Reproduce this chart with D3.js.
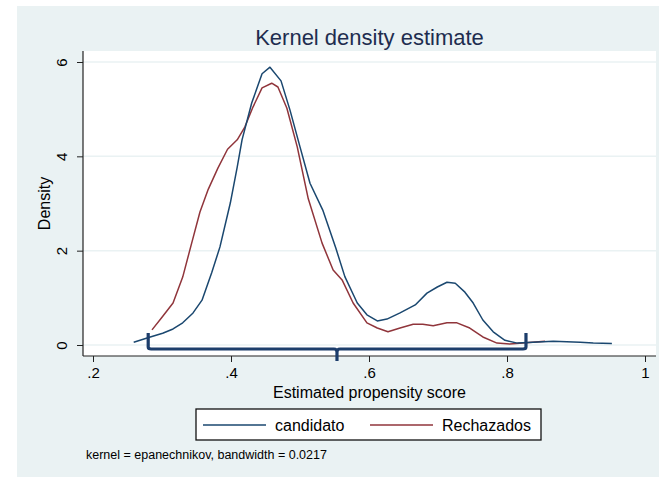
<!DOCTYPE html>
<html>
<head>
<meta charset="utf-8">
<script src="https://cdn.jsdelivr.net/npm/d3@7"></script>
<style>
  body { margin: 0; background: #fff; }
  text { font-family: "Liberation Sans", Arial, sans-serif; }
</style>
</head>
<body>
<div id="chart"></div>
<script>
// data
var candidatoX = [0.259, 0.283, 0.301, 0.316, 0.330, 0.345, 0.358, 0.372, 0.384, 0.399, 0.409, 0.416, 0.430, 0.445, 0.4565, 0.4725, 0.4855, 0.500, 0.5145, 0.533, 0.552, 0.565, 0.583, 0.597, 0.612, 0.626, 0.645, 0.667, 0.684, 0.699, 0.713, 0.725, 0.739, 0.751, 0.765, 0.780, 0.797, 0.815, 0.838, 0.867, 0.906, 0.925, 0.952];
var candidatoY = [0.06, 0.17, 0.25, 0.34, 0.47, 0.68, 0.95, 1.53, 2.08, 3.01, 3.77, 4.35, 5.13, 5.75, 5.89, 5.6, 4.98, 4.2, 3.43, 2.86, 2.05, 1.45, 0.89, 0.64, 0.51, 0.55, 0.68, 0.85, 1.1, 1.23, 1.33, 1.31, 1.12, 0.89, 0.53, 0.28, 0.1, 0.04, 0.06, 0.08, 0.06, 0.04, 0.03];

var rechazadosX = [0.2855, 0.300, 0.316, 0.330, 0.343, 0.355, 0.367, 0.381, 0.395, 0.409, 0.420, 0.432, 0.445, 0.459, 0.468, 0.481, 0.496, 0.512, 0.532, 0.548, 0.561, 0.577, 0.597, 0.612, 0.6275, 0.645, 0.664, 0.678, 0.693, 0.713, 0.7275, 0.746, 0.765, 0.7855, 0.804, 0.823, 0.855];
var rechazadosY = [0.32, 0.59, 0.89, 1.44, 2.16, 2.82, 3.3, 3.75, 4.15, 4.35, 4.62, 5.05, 5.45, 5.55, 5.47, 5.02, 4.2, 3.1, 2.16, 1.59, 1.38, 0.89, 0.47, 0.36, 0.28, 0.36, 0.44, 0.44, 0.41, 0.47, 0.47, 0.36, 0.17, 0.04, 0.02, 0.04, 0.08];

var xTicks = [0.2, 0.4, 0.6, 0.8, 1];
var xTickLabels = [".2", ".4", ".6", ".8", "1"];
var yTicks = [0, 2, 4, 6];
var yTickLabels = ["0", "2", "4", "6"];

var seriesNames = ["candidato", "Rechazados"];
// brace drawn under the curves (left end, middle point, right end)
var braceX = [0.28, 0.5536, 0.8275];

// layout
var svgWidth = 659;
var svgHeight = 477;
var plotLeft = 83, plotRight = 656, plotTop = 51, plotBottom = 356;

var blue = "#1a476f";
var red = "#90353b";
var bg = "#eaf2f3";

var svg = d3.select("#chart").append("svg")
    .attr("width", svgWidth)
    .attr("height", svgHeight);

// graph region background
svg.append("rect")
    .attr("x", 17).attr("y", 6)
    .attr("width", svgWidth - 17).attr("height", svgHeight - 6)
    .attr("fill", bg);

// plot region
svg.append("rect")
    .attr("x", plotLeft).attr("y", plotTop)
    .attr("width", plotRight - plotLeft).attr("height", plotBottom - plotTop)
    .attr("fill", "#fff");

//scales
var xScale = d3.scaleLinear().domain([0.2, 1]).range([93, 645]);
var yScale = d3.scaleLinear().domain([0, 6]).range([345, 62]);

//grid lines
svg.append("g").selectAll("line")
    .data(yTicks)
    .enter()
    .append("line")
    .attr("x1", plotLeft).attr("x2", plotRight)
    .attr("y1", d => yScale(d)).attr("y2", d => yScale(d))
    .attr("stroke", bg)
    .attr("stroke-width", 1.5);

//axes
var bottomAxis = d3.axisBottom(xScale)
    .tickValues(xTicks)
    .tickFormat((d, i) => xTickLabels[i])
    .tickSize(6)
    .tickPadding(5);

var leftAxis = d3.axisLeft(yScale)
    .tickValues(yTicks)
    .tickFormat((d, i) => yTickLabels[i])
    .tickSize(6)
    .tickPadding(4);

var xAxis = svg.append("g")
    .attr("transform", `translate(0, ${plotBottom})`)
    .call(bottomAxis);
xAxis.select(".domain").remove();
xAxis.selectAll("line").attr("stroke", "#222");
xAxis.selectAll("text")
    .attr("font-size", "15px")
    .attr("fill", "#000")
    .attr("font-family", "Liberation Sans, Arial, sans-serif");

var yAxis = svg.append("g")
    .attr("transform", `translate(${plotLeft}, 0)`)
    .call(leftAxis);
yAxis.select(".domain").remove();
yAxis.selectAll("line").attr("stroke", "#222");
// Stata draws the y labels turned on their side
yAxis.selectAll("text")
    .attr("font-size", "15px")
    .attr("fill", "#000")
    .attr("font-family", "Liberation Sans, Arial, sans-serif")
    .attr("text-anchor", "middle")
    .attr("x", null)
    .attr("dy", null)
    .attr("transform", "translate(-21, 0) rotate(-90)")
    .attr("y", 5);

// axis lines across the whole plot region
svg.append("line")
    .attr("x1", plotLeft).attr("x2", plotRight)
    .attr("y1", plotBottom).attr("y2", plotBottom)
    .attr("stroke", "#222").attr("stroke-width", 1.2);
svg.append("line")
    .attr("x1", plotLeft).attr("x2", plotLeft)
    .attr("y1", plotTop).attr("y2", plotBottom)
    .attr("stroke", "#222").attr("stroke-width", 1.2);

//density lines (straight segments between evaluation points)
var line = d3.line()
    .x(d => xScale(d[0]))
    .y(d => yScale(d[1]));

var candidato = candidatoX.map((x, i) => [x, candidatoY[i]]);
var rechazados = rechazadosX.map((x, i) => [x, rechazadosY[i]]);

svg.append("path")
    .datum(rechazados)
    .attr("d", line)
    .attr("fill", "none")
    .attr("stroke", red)
    .attr("stroke-width", 1.5)
    .attr("stroke-linejoin", "round");

svg.append("path")
    .datum(candidato)
    .attr("d", line)
    .attr("fill", "none")
    .attr("stroke", blue)
    .attr("stroke-width", 1.5)
    .attr("stroke-linejoin", "round");

// brace
var bl = xScale(braceX[0]), bm = xScale(braceX[1]), br = xScale(braceX[2]);
var by = yScale(0) + 4;
var bracePath = d3.path();
bracePath.moveTo(bl, by - 16);
bracePath.lineTo(bl, by - 2);
bracePath.quadraticCurveTo(bl, by, bl + 3, by);
bracePath.lineTo(bm - 3, by);
bracePath.quadraticCurveTo(bm, by, bm, by + 3);
bracePath.lineTo(bm, by + 12);
bracePath.moveTo(bm, by + 3);
bracePath.quadraticCurveTo(bm, by, bm + 3, by);
bracePath.lineTo(br - 3, by);
bracePath.quadraticCurveTo(br, by, br, by - 2);
bracePath.lineTo(br, by - 16);
svg.append("path")
    .attr("d", bracePath.toString())
    .attr("fill", "none")
    .attr("stroke", "#1c3d6b")
    .attr("stroke-width", 3.2);

//titles
var midX = (plotLeft + plotRight) / 2;
svg.append("text")
    .attr("x", midX).attr("y", 45)
    .attr("text-anchor", "middle")
    .attr("font-size", "22px")
    .attr("fill", "#1e2d4f")
    .text("Kernel density estimate");

svg.append("text")
    .attr("transform", `translate(50, ${(plotTop + plotBottom) / 2}) rotate(-90)`)
    .attr("text-anchor", "middle")
    .attr("font-size", "16px")
    .attr("fill", "#000")
    .text("Density");

svg.append("text")
    .attr("x", midX).attr("y", 398)
    .attr("text-anchor", "middle")
    .attr("font-size", "16px")
    .attr("fill", "#000")
    .text("Estimated propensity score");

//legend
var legend = svg.append("g");
legend.append("rect")
    .attr("x", 196).attr("y", 409)
    .attr("width", 345).attr("height", 31)
    .attr("fill", "#fff")
    .attr("stroke", "#111")
    .attr("stroke-width", 1.3);

var legendItems = [
    {name: seriesNames[0], color: blue, x: 203},
    {name: seriesNames[1], color: red, x: 370}
];
legendItems.forEach(function(item) {
    legend.append("line")
        .attr("x1", item.x).attr("x2", item.x + 63)
        .attr("y1", 425).attr("y2", 425)
        .attr("stroke", item.color)
        .attr("stroke-width", 1.5);
    legend.append("text")
        .attr("x", item.x + 72).attr("y", 431)
        .attr("font-size", "16px")
        .attr("fill", "#000")
        .text(item.name);
});

//note
svg.append("text")
    .attr("x", 86).attr("y", 459)
    .attr("font-size", "12.5px")
    .attr("fill", "#000")
    .text("kernel = epanechnikov, bandwidth = 0.0217");
</script>
</body>
</html>
